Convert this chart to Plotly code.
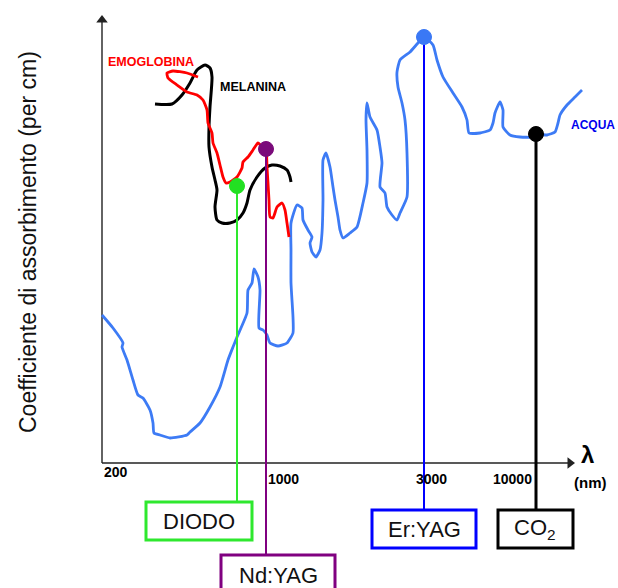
import plotly.graph_objects as go

# Schematic absorption spectra (x: position along the wavelength axis, y: relative absorption)
acqua_x = [0, 11, 21, 20, 25, 31, 36, 41, 48, 51, 52, 58, 68, 85, 88, 98, 108, 118, 126, 131, 135,
           145, 146, 150, 152, 156, 158, 157, 161, 165, 168, 176, 185, 191, 191, 189, 189, 189, 195,
           200, 201, 206, 210, 208, 210, 214, 218, 220, 221, 221, 224, 228, 231, 233, 236, 238, 241,
           248, 255, 261, 265, 265, 264, 265, 268, 275, 278, 280, 278, 283, 285, 290, 295, 298, 305,
           305, 303, 300, 296, 295, 298, 308, 316, 322, 331, 335, 341, 351, 360, 365, 367, 378, 388,
           391, 393, 398, 401, 401, 408, 418, 431, 435, 445, 453, 456, 458, 465, 473, 480]
acqua_y = [148, 135, 120, 116, 103, 83, 68, 65, 53, 40, 30, 28, 25, 28, 31, 40, 56, 76, 103, 116, 126,
           150, 173, 180, 194, 186, 173, 135, 133, 128, 120, 117, 120, 130, 146, 180, 213, 240, 258,
           255, 243, 233, 226, 220, 211, 206, 213, 230, 263, 303, 310, 296, 276, 263, 246, 233, 225,
           230, 236, 260, 280, 313, 343, 360, 346, 333, 316, 300, 276, 270, 256, 248, 243, 250, 266,
           310, 343, 360, 376, 391, 403, 411, 420, 426, 418, 403, 386, 370, 356, 343, 330, 330, 333,
           340, 350, 361, 353, 336, 328, 326, 326, 329, 328, 331, 340, 348, 358, 366, 373]

emoglobina_x = [96, 85, 71, 65, 66, 75, 85, 95, 101, 105, 106, 110, 111, 115, 118, 121, 124, 128,
                135, 140, 141, 146, 151, 156, 160, 164, 165, 166, 167, 168, 171, 175, 180, 183, 185, 187]
emoglobina_y = [386, 390, 392, 390, 385, 378, 371, 368, 363, 353, 340, 330, 320, 310, 298, 286, 280, 281,
                286, 295, 301, 306, 313, 320, 316, 313, 296, 280, 263, 246, 245, 256, 260, 253, 240, 226]

melanina_x = [53, 70, 80, 88, 95, 103, 108, 110, 108, 107, 107, 110, 113, 115, 113, 115, 120, 128,
              135, 141, 145, 148, 155, 163, 170, 178, 185, 188, 189]
melanina_y = [359, 359, 368, 380, 393, 398, 395, 386, 356, 336, 316, 296, 283, 273, 256, 243, 240, 240,
              243, 250, 260, 273, 286, 295, 298, 297, 293, 286, 281]

# Axis tick labels (wavelength, nm)
tick_pos = [14, 181, 329, 410]
tick_labels = ["200", "1000", "3000", "10000"]

# Lasers: name, position on axis, absorption point, colour
laser_names = ["DIODO", "Nd:YAG", "Er:YAG", "CO<sub>2</sub>"]
laser_x = [135, 164, 322, 434]
laser_y = [277, 314, 426, 329]
laser_colors = ["#2ee82e", "#800080", "#0000ff", "#000000"]
marker_colors = ["#22e022", "#7a0a7a", "#3a78f5", "#000000"]

FONT = "Liberation Sans, Arial"

fig = go.Figure()

# Axes with arrow heads
fig.add_trace(go.Scatter(x=[0, 0], y=[0, 446], mode="lines",
                         line=dict(color="#222222", width=1.4)))
fig.add_trace(go.Scatter(x=[0, 471], y=[0, 0], mode="lines",
                         line=dict(color="#222222", width=1.4)))
fig.add_trace(go.Scatter(x=[0], y=[443], mode="markers",
                         marker=dict(symbol="triangle-up", size=10, color="#222222")))
fig.add_trace(go.Scatter(x=[468], y=[0], mode="markers",
                         marker=dict(symbol="triangle-right", size=10, color="#222222")))

fig.add_trace(go.Scatter(x=acqua_x, y=acqua_y, mode="lines",
                         line=dict(color="#3d7bf5", width=2.8, shape="spline", smoothing=0.5)))
fig.add_trace(go.Scatter(x=melanina_x, y=melanina_y, mode="lines",
                         line=dict(color="#000000", width=3, shape="spline", smoothing=0.6)))
fig.add_trace(go.Scatter(x=emoglobina_x, y=emoglobina_y, mode="lines",
                         line=dict(color="#ff0000", width=2.8, shape="spline", smoothing=0.5)))

# Laser boxes (left, right, bottom, top) and label centres
box_l = [44, 119, 270, 396]
box_r = [150, 233, 374, 471]
box_b = [-77, -140, -85, -85]
box_t = [-39, -92, -47, -47]
lbl_x = [97, 176, 322, 433]
lbl_y = [-58, -112, -66, -66]
line_w = [2, 2, 2, 3]

for i in range(len(laser_names)):
    fig.add_trace(go.Scatter(x=[laser_x[i], laser_x[i]], y=[laser_y[i], box_t[i]], mode="lines",
                             line=dict(color=laser_colors[i], width=line_w[i])))
    fig.add_shape(type="rect", x0=box_l[i], x1=box_r[i], y0=box_b[i], y1=box_t[i],
                  line=dict(color=laser_colors[i], width=3), fillcolor="white", layer="above")
    fig.add_annotation(x=lbl_x[i], y=lbl_y[i], text=laser_names[i], showarrow=False,
                       font=dict(family=FONT, size=22, color="#111111"))

fig.add_trace(go.Scatter(x=laser_x, y=laser_y, mode="markers",
                         marker=dict(size=15, color=marker_colors,
                                     line=dict(color=marker_colors, width=1))))

for p, t, yy in zip(tick_pos, tick_labels, [-9, -16, -16, -16]):
    fig.add_annotation(x=p, y=yy, text="<b>" + t + "</b>", showarrow=False,
                       font=dict(family=FONT, size=14, color="#000000"))

fig.add_annotation(x=485, y=9, text="<b>λ</b>", showarrow=False,
                   font=dict(family=FONT, size=24, color="#000000"))
fig.add_annotation(x=488, y=-19, text="<b>(nm)</b>", showarrow=False,
                   font=dict(family=FONT, size=15, color="#000000"))

fig.add_annotation(x=-74, y=221, text="Coefficiente di assorbimento (per cm)", textangle=-90,
                   showarrow=False, font=dict(family=FONT, size=23, color="#111111"))

fig.add_annotation(x=49, y=401, text="<b>EMOGLOBINA</b>", showarrow=False,
                   font=dict(family=FONT, size=12.5, color="#ff0000"))
fig.add_annotation(x=151, y=376, text="<b>MELANINA</b>", showarrow=False,
                   font=dict(family=FONT, size=12.5, color="#000000"))
fig.add_annotation(x=467, y=338, text="<b>ACQUA</b>", showarrow=False, xanchor="left",
                   font=dict(family=FONT, size=12, color="#0000ee"))

fig.update_layout(width=618, height=588, margin=dict(l=0, r=0, t=0, b=0),
                  paper_bgcolor="white", plot_bgcolor="white", showlegend=False,
                  xaxis=dict(range=[-102, 516], visible=False),
                  yaxis=dict(range=[-125, 463], visible=False))

fig.write_html("out.html")
